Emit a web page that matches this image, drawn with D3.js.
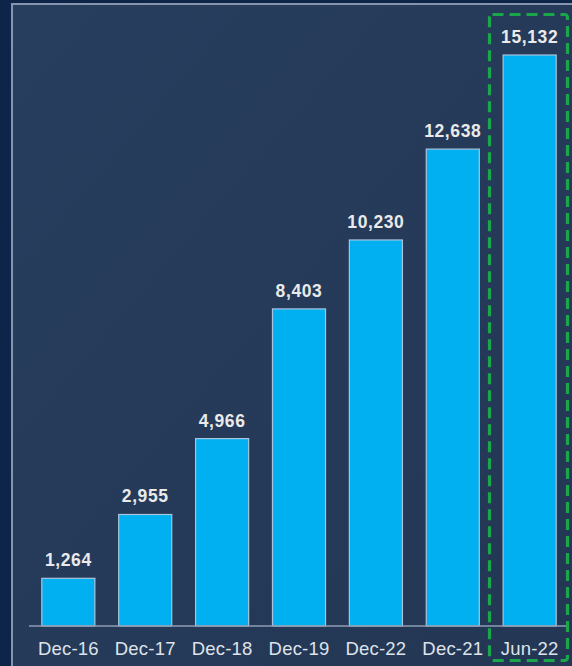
<!DOCTYPE html>
<html><head><meta charset="utf-8">
<script src="https://cdn.jsdelivr.net/npm/d3@7"></script>
<style>html,body{margin:0;padding:0;background:#0c2548;}svg{display:block;}</style>
</head><body>
<script>
const categories = ["Dec-16","Dec-17","Dec-18","Dec-19","Dec-22","Dec-21","Jun-22"];
const values = [1264,2955,4966,8403,10230,12638,15132];
const valueLabels = ["1,264","2,955","4,966","8,403","10,230","12,638","15,132"];

const W = 572, H = 666;
const svg = d3.select("body").append("svg").attr("width", W).attr("height", H);

const defs = svg.append("defs");
const g = defs.append("linearGradient").attr("id","bg").attr("x1","0").attr("y1","0").attr("x2","1").attr("y2","1");
g.append("stop").attr("offset","0").attr("stop-color","#283e5e");
g.append("stop").attr("offset","1").attr("stop-color","#233754");

svg.append("rect").attr("width",W).attr("height",H).attr("fill","#0c2548");
svg.append("rect").attr("x",12).attr("y",4).attr("width",W).attr("height",H)
  .attr("fill","url(#bg)").attr("stroke","#8595ad").attr("stroke-width",2);

const baseY = 626;
const x = d3.scaleBand().domain(categories).range([29.5, 568.5]).paddingInner(0.31).paddingOuter(0.16);
const y = d3.scaleLinear().domain([0, 15132]).range([baseY, 55]);

svg.selectAll("rect.bar").data(values).join("rect").attr("class","bar")
  .attr("x",(d,i)=>x(categories[i])).attr("width",x.bandwidth())
  .attr("y",d=>y(d)).attr("height",d=>baseY-y(d))
  .attr("fill","#00b0f0").attr("stroke","#a9c4dc").attr("stroke-width",1.2);

svg.append("line").attr("x1",29).attr("x2",568).attr("y1",baseY).attr("y2",baseY)
  .attr("stroke","#8e9db3").attr("stroke-width",1.5);

svg.selectAll("text.val").data(values).join("text").attr("class","val")
  .attr("x",(d,i)=>x(categories[i])+x.bandwidth()/2).attr("y",d=>y(d)-12)
  .attr("text-anchor","middle").attr("font-family","Liberation Sans, Arial, sans-serif")
  .attr("font-weight","bold").attr("font-size",17.5).attr("letter-spacing",0.6).attr("fill","#eaeaea")
  .text((d,i)=>valueLabels[i]);

const xAxis = d3.axisBottom(x).tickSize(0).tickPadding(0);
const ax = svg.append("g").attr("transform",`translate(0,${baseY})`).call(xAxis);
ax.select(".domain").remove();
ax.selectAll("text").attr("y",29).attr("dy",0).attr("font-family","Liberation Sans, Arial, sans-serif")
  .attr("font-size",18.5).attr("letter-spacing",0.2).attr("fill","#dfe3ea");

svg.append("rect").attr("x",489.5).attr("y",14.5).attr("width",78).attr("height",646).attr("rx",3)
  .attr("fill","none").attr("stroke","#1aa64a").attr("stroke-width",3.2).attr("stroke-dasharray","11,6");
</script>
</body></html>
